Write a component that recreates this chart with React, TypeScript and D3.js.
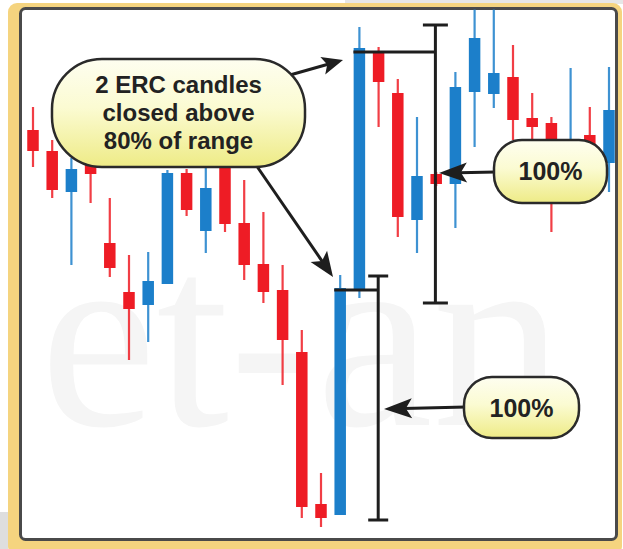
import * as d3 from 'd3'
import React from 'react'

const W = 623
const H = 549

// candle OHLC, in price points, left to right
const opens = [400, 379, 338, 370, 287, 238, 225, 246, 357, 299, 362, 307, 266, 240, 178, 26, 15, 240, 477, 437, 310, 356, 346, 438, 436, 453, 412, 407, 370, 395, 367]
const highs = [423, 390, 372, 375, 332, 275, 278, 360, 361, 362, 365, 350, 318, 265, 200, 57, 255, 503, 483, 451, 413, 358, 458, 540, 540, 485, 437, 413, 462, 423, 463]
const lows = [363, 332, 265, 327, 253, 170, 188, 246, 314, 277, 298, 250, 227, 145, 12, 3, 15, 232, 403, 293, 277, 344, 302, 383, 422, 390, 388, 298, 335, 340, 338]
const closes = [379, 340, 361, 356, 262, 221, 249, 357, 320, 342, 306, 265, 238, 190, 23, 12, 242, 482, 448, 313, 354, 346, 443, 492, 457, 410, 403, 378, 380, 375, 420]

// the two ERC candles that get a range bracket
const ercIndex = [16, 17]

const bubbleLines = ['2 ERC candles', 'closed above', '80% of range']
const rangeLabel = '100%'

const UP = '#1c7fca'
const DOWN = '#ee1c25'
const INK = '#1e1e1e'

// concave arrowhead pointing from (x1,y1) to (x2,y2)
const arrowHead = (x1: number, y1: number, x2: number, y2: number, len: number, half: number) => {
    const a = Math.atan2(y2 - y1, x2 - x1)
    const ux = Math.cos(a)
    const uy = Math.sin(a)
    const bx = x2 - ux * len
    const by = y2 - uy * len
    const nx = x2 - ux * len * 0.78
    const ny = y2 - uy * len * 0.78
    return `M${x2},${y2}L${bx - uy * half},${by + ux * half}L${nx},${ny}L${bx + uy * half},${by - ux * half}Z`
}

const Arrow = (p: { x1: number; y1: number; x2: number; y2: number; len: number; half: number }) => {
    const a = Math.atan2(p.y2 - p.y1, p.x2 - p.x1)
    const ex = p.x2 - Math.cos(a) * p.len * 0.7
    const ey = p.y2 - Math.sin(a) * p.len * 0.7
    return (
        <g>
            <line x1={p.x1} y1={p.y1} x2={ex} y2={ey} stroke={INK} strokeWidth={3} />
            <path d={arrowHead(p.x1, p.y1, p.x2, p.y2, p.len, p.half)} fill={INK} />
        </g>
    )
}

const App = (): JSX.Element => {
    const idx = d3.range(opens.length)
    const x = d3.scalePoint<number>().domain(idx).range([33, 609])
    const y = d3.scaleLinear().domain([0, 520]).range([530, 10])
    const bodyW = 11.5

    const [a, b] = ercIndex
    // lower bracket: candle a, upper bracket: candle b
    const lowBr = { x: x(a)! + 38, top: y(highs[a]) + 1, bot: y(lows[a]) + 5, close: y(closes[a]) + 2 }
    const upBr = { x: x(b)! + 76, top: y(highs[b]) - 2, bot: y(lows[b]) + 5, close: y(closes[b]) + 4 }

    const font = '"Liberation Sans", Arial, sans-serif'

    const bracket = (br: { x: number; top: number; bot: number; close: number }, fromX: number, cap: number) => (
        <g stroke={INK} strokeWidth={3}>
            <line x1={br.x} y1={br.top} x2={br.x} y2={br.bot} />
            <line x1={br.x - cap} y1={br.top} x2={br.x + cap} y2={br.top} />
            <line x1={br.x - cap} y1={br.bot} x2={br.x + cap} y2={br.bot} />
            <line x1={fromX} y1={br.close} x2={br.x} y2={br.close} />
        </g>
    )

    return (
        <svg width={W} height={H} style={{ position: 'absolute', left: 0, top: 0, display: 'block' }}>
            <defs>
                <linearGradient id="bub" x1="0" y1="0" x2="0" y2="1">
                    <stop offset="0%" stopColor="#fefef0" />
                    <stop offset="45%" stopColor="#fbfbd2" />
                    <stop offset="100%" stopColor="#eeeb86" />
                </linearGradient>
                <clipPath id="panel">
                    <rect x={21.5} y={9.5} width={594} height={529} />
                </clipPath>
            </defs>

            {/* page background bits */}
            <rect x={0} y={0} width={W} height={H} fill="#ffffff" />
            <rect x={345} y={0} width={W - 345} height={4} fill="#e6e6e6" />
            <rect x={0} y={512} width={8} height={H - 512} fill="#dedede" />

            {/* gold frame and panel */}
            <rect x={8} y={3} width={614} height={552} rx={9} fill="#f5d47f" />
            <rect x={20.5} y={8.5} width={596} height={531} rx={5} fill="#ffffff" stroke="#4a4a4a" strokeWidth={3} />

            <g clipPath="url(#panel)">
                {/* watermark */}
                <text x={40} y={425} fontFamily='"Liberation Serif", "Times New Roman", serif' fontSize={262} fill="#f5f5f5">
                    et-an
                </text>

                {/* candles */}
                {idx.map((i) => {
                    const up = closes[i] >= opens[i]
                    const c = up ? UP : DOWN
                    const cx = x(i)!
                    const top = y(Math.max(opens[i], closes[i]))
                    const bot = y(Math.min(opens[i], closes[i]))
                    return (
                        <g key={i}>
                            <line x1={cx} x2={cx} y1={y(highs[i])} y2={y(lows[i])} stroke={c} strokeWidth={2.2} strokeOpacity={0.85} />
                            <rect x={cx - bodyW / 2} y={top} width={bodyW} height={Math.max(bot - top, 2)} fill={c} />
                        </g>
                    )
                })}
            </g>

            {/* range brackets */}
            {bracket(lowBr, x(a)! - 6, 10)}
            {bracket(upBr, x(b)! - 6, 12.5)}

            {/* arrows */}
            <Arrow x1={290} y1={75} x2={343} y2={60} len={21} half={9} />
            <Arrow x1={256} y1={165} x2={333} y2={277} len={25} half={10} />
            <Arrow x1={496} y1={172} x2={439} y2={173} len={28} half={10} />
            <Arrow x1={466} y1={407} x2={384} y2={409} len={28} half={10} />

            {/* callout bubbles */}
            <rect x={52} y={59} width={253} height={108} rx={50} fill="url(#bub)" stroke="#2a2a2a" strokeWidth={2.5} />
            {bubbleLines.map((t, k) => (
                <text key={t} x={178.5} y={93 + k * 28} textAnchor="middle" fontFamily={font} fontWeight="bold" fontSize={24} fill="#222222">
                    {t}
                </text>
            ))}

            <rect x={494} y={140} width={113} height={63} rx={28} fill="url(#bub)" stroke="#2a2a2a" strokeWidth={2.5} />
            <text x={550.5} y={180} textAnchor="middle" fontFamily={font} fontWeight="bold" fontSize={25} fill="#222222">
                {rangeLabel}
            </text>

            <rect x={464} y={377} width={115} height={61} rx={28} fill="url(#bub)" stroke="#2a2a2a" strokeWidth={2.5} />
            <text x={521.5} y={417} textAnchor="middle" fontFamily={font} fontWeight="bold" fontSize={25} fill="#222222">
                {rangeLabel}
            </text>
        </svg>
    )
}

export default App
